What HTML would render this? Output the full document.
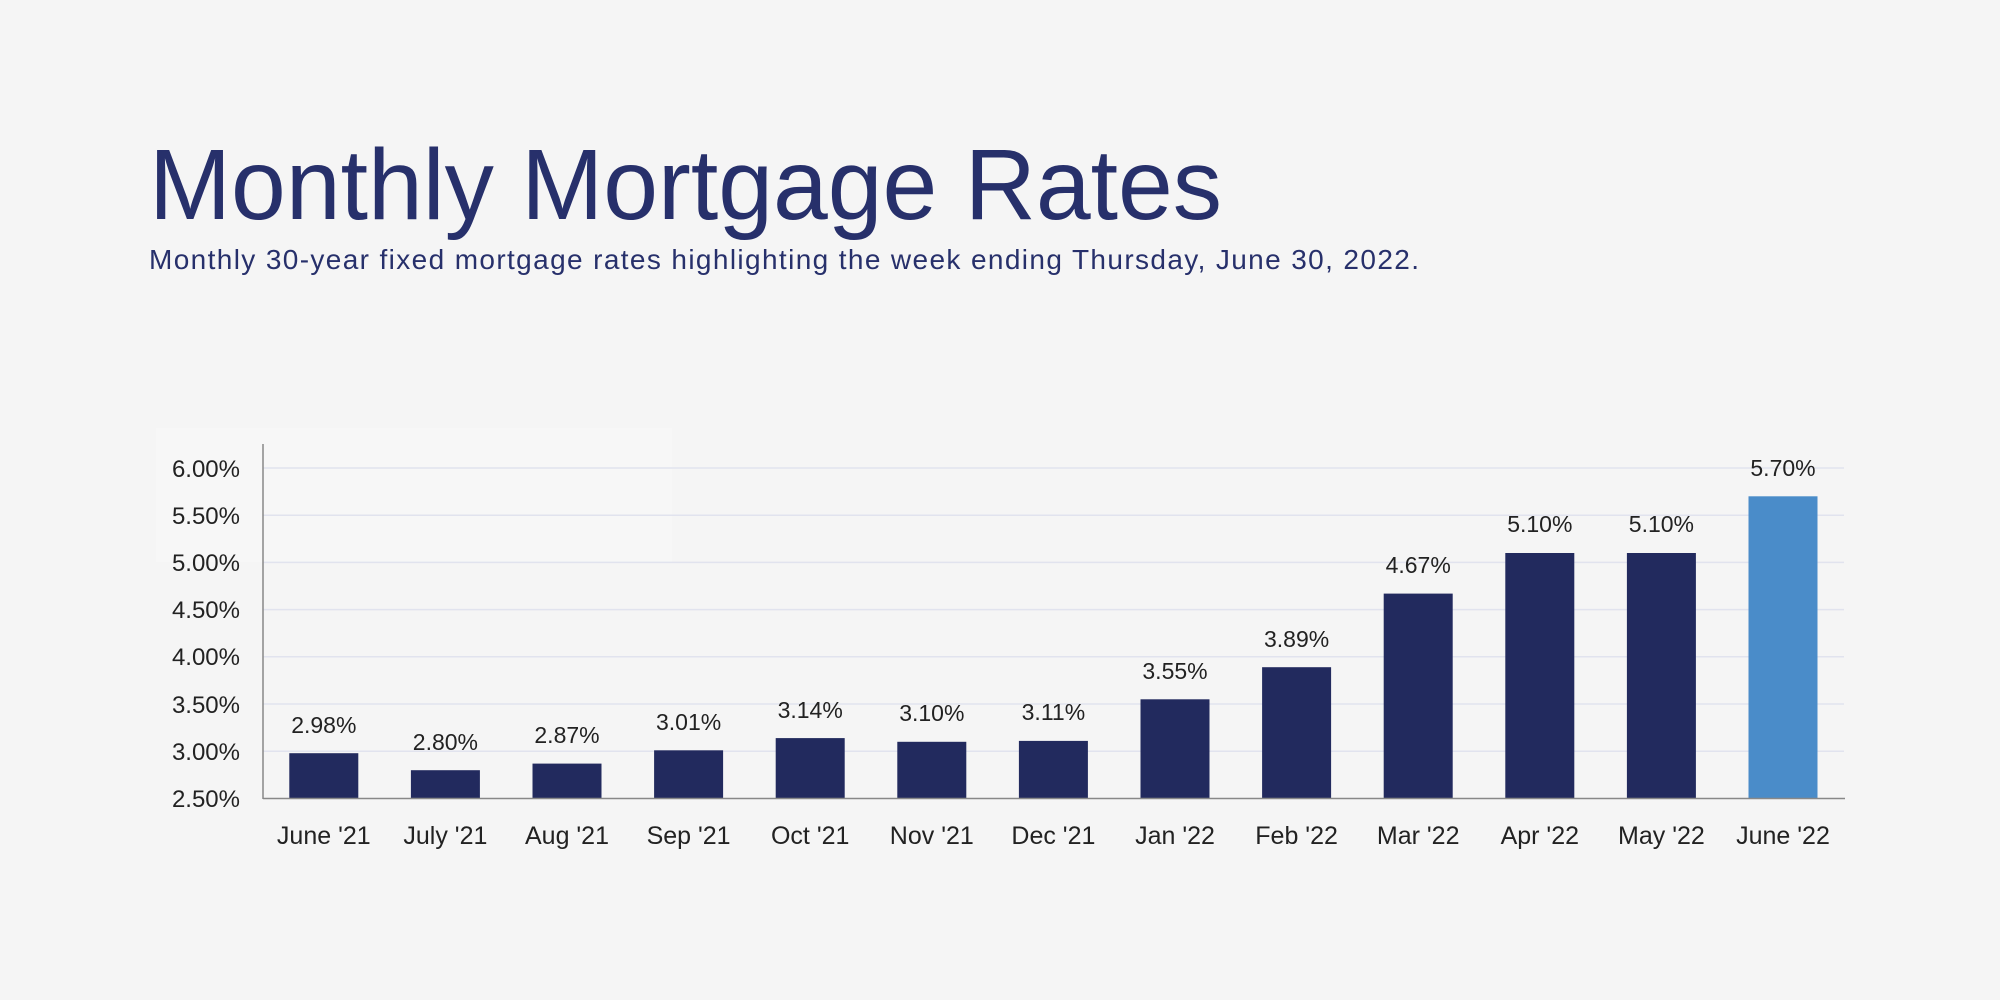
<!DOCTYPE html>
<html><head><meta charset="utf-8"><style>
html,body{margin:0;padding:0;background:#f5f5f5;}
svg{display:block;font-family:"Liberation Sans",sans-serif;}
</style></head><body>
<svg width="2000" height="1000" viewBox="0 0 2000 1000">
<rect width="2000" height="1000" fill="#f5f5f5"/>
<rect x="156" y="428" width="516" height="134" fill="#f7f7f7"/>
<text x="149" y="219" font-size="100" fill="#27306b" textLength="1073" lengthAdjust="spacingAndGlyphs">Monthly Mortgage Rates</text>
<text x="149" y="269" font-size="28" fill="#27306b" textLength="1270" lengthAdjust="spacing">Monthly 30-year fixed mortgage rates highlighting the week ending Thursday, June 30, 2022.</text>
<g stroke="#e1e3ee" stroke-width="1.5">
<line x1="263" x2="1844" y1="468" y2="468"/>
<line x1="263" x2="1844" y1="515.2" y2="515.2"/>
<line x1="263" x2="1844" y1="562.4" y2="562.4"/>
<line x1="263" x2="1844" y1="609.6" y2="609.6"/>
<line x1="263" x2="1844" y1="656.8" y2="656.8"/>
<line x1="263" x2="1844" y1="704" y2="704"/>
<line x1="263" x2="1844" y1="751.3" y2="751.3"/>
</g>
<g font-size="24" fill="#222" text-anchor="end">
<text x="240" y="477">6.00%</text>
<text x="240" y="524">5.50%</text>
<text x="240" y="571">5.00%</text>
<text x="240" y="618">4.50%</text>
<text x="240" y="665">4.00%</text>
<text x="240" y="713">3.50%</text>
<text x="240" y="760">3.00%</text>
<text x="240" y="807">2.50%</text>
</g>
<g fill="#222a5e">
<rect x="289.3" y="753.2" width="69" height="45.3"/>
<rect x="410.9" y="770.2" width="69" height="28.3"/>
<rect x="532.5" y="763.6" width="69" height="34.9"/>
<rect x="654.1" y="750.3" width="69" height="48.2"/>
<rect x="775.7" y="738.1" width="69" height="60.4"/>
<rect x="897.3" y="741.8" width="69" height="56.7"/>
<rect x="1018.9" y="740.9" width="69" height="57.6"/>
<rect x="1140.5" y="699.3" width="69" height="99.2"/>
<rect x="1262.1" y="667.2" width="69" height="131.3"/>
<rect x="1383.7" y="593.6" width="69" height="204.9"/>
<rect x="1505.3" y="553" width="69" height="245.5"/>
<rect x="1626.9" y="553" width="69" height="245.5"/>
</g>
<rect x="1748.5" y="496.3" width="69" height="302.2" fill="#4a8cc9"/>
<line x1="263" y1="444" x2="263" y2="799" stroke="#888" stroke-width="1.5"/>
<line x1="263" y1="798.5" x2="1845" y2="798.5" stroke="#888" stroke-width="1.5"/>
<g font-size="23" fill="#222" text-anchor="middle">
<text x="323.8" y="733">2.98%</text>
<text x="445.4" y="750">2.80%</text>
<text x="567" y="743">2.87%</text>
<text x="688.6" y="730">3.01%</text>
<text x="810.2" y="718">3.14%</text>
<text x="931.8" y="721">3.10%</text>
<text x="1053.4" y="720">3.11%</text>
<text x="1175" y="679">3.55%</text>
<text x="1296.6" y="647">3.89%</text>
<text x="1418.2" y="573">4.67%</text>
<text x="1539.8" y="532">5.10%</text>
<text x="1661.4" y="532">5.10%</text>
<text x="1783" y="476">5.70%</text>
</g>
<g font-size="25" fill="#222" text-anchor="middle">
<text x="323.8" y="844">June '21</text>
<text x="445.4" y="844">July '21</text>
<text x="567" y="844">Aug '21</text>
<text x="688.6" y="844">Sep '21</text>
<text x="810.2" y="844">Oct '21</text>
<text x="931.8" y="844">Nov '21</text>
<text x="1053.4" y="844">Dec '21</text>
<text x="1175" y="844">Jan '22</text>
<text x="1296.6" y="844">Feb '22</text>
<text x="1418.2" y="844">Mar '22</text>
<text x="1539.8" y="844">Apr '22</text>
<text x="1661.4" y="844">May '22</text>
<text x="1783" y="844">June '22</text>
</g>
</svg>
</body></html>
